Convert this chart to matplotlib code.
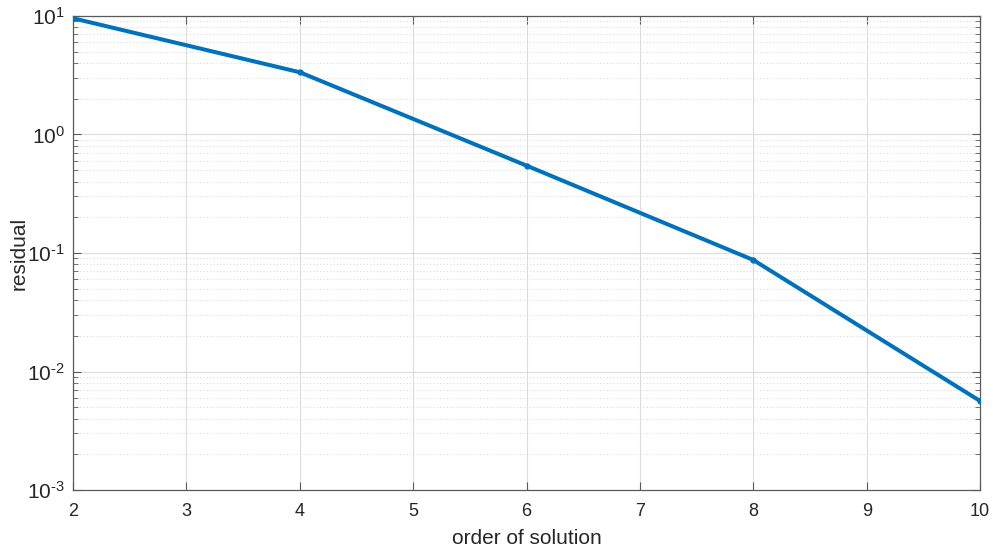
import matplotlib
matplotlib.use("Agg")
import math
import matplotlib.pyplot as plt
from matplotlib.ticker import LogLocator, NullFormatter, FixedLocator, FuncFormatter

order = [2, 4, 6, 8, 10]
residual = [9.56, 3.35, 0.546, 0.0873, 0.00564]
xticks = [2, 3, 4, 5, 6, 7, 8, 9, 10]

plt.rcParams['font.family'] = ['Liberation Sans', 'DejaVu Sans']
plt.rcParams['mathtext.fontset'] = 'custom'
plt.rcParams['mathtext.rm'] = 'Liberation Sans'

fig = plt.figure(figsize=(9.93, 5.5), dpi=100)
ax = fig.add_axes([0.0735, 0.109, 0.9135, 0.862])

ax.plot(order, residual, color='#0072BD', lw=2.9, marker='o', ms=3.5, zorder=3)
ax.set_yscale('log')
ax.set_xlim(2, 10)
ax.set_ylim(1e-3, 1e1)
ax.xaxis.set_major_locator(FixedLocator(xticks))
ax.yaxis.set_major_locator(LogLocator(base=10, numticks=10))
ax.yaxis.set_minor_locator(LogLocator(base=10, subs=range(2, 10), numticks=100))
ax.yaxis.set_minor_formatter(NullFormatter())

def yfmt(v, pos):
    e = int(round(math.log10(v)))
    s = str(abs(e))
    if e < 0:
        s = '\u2010' + s
    return r'$\mathregular{10^{%s}}$' % s
ax.yaxis.set_major_formatter(FuncFormatter(yfmt))

ax.grid(True, which='major', color='#dcdcdc', lw=0.8, ls='-')
ax.grid(True, which='minor', axis='y', color='#dcdcdc', lw=0.8, ls=(0, (1, 2)))
ax.set_axisbelow(True)

axc = '#5a5a5a'
for s in ax.spines.values():
    s.set_color(axc)
    s.set_linewidth(0.9)
ax.tick_params(which='both', direction='in', top=True, right=True, colors=axc,
               labelcolor='#262626')
ax.tick_params(axis='x', labelsize=13, pad=9)
ax.tick_params(axis='y', labelsize=15, pad=6)
ax.tick_params(which='major', length=6)
ax.tick_params(which='minor', length=3.5)

ax.set_xlabel('order of solution', fontsize=15, color='#262626')
ax.set_ylabel('residual', fontsize=15, color='#262626')
ax.xaxis.set_label_coords(0.5, -0.082)
ax.yaxis.set_label_coords(-0.049, 0.5)

fig.savefig('out.png', dpi=100)
